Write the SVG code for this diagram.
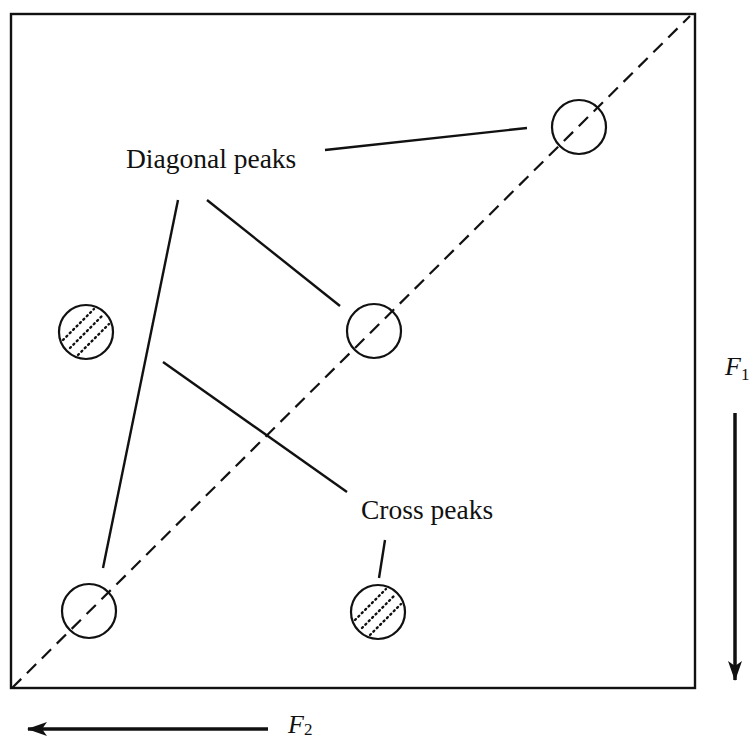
<svg xmlns="http://www.w3.org/2000/svg" width="753" height="740" viewBox="0 0 753 740">
<style>
.pk{fill:none;stroke:#111;stroke-width:2.2}
.ln{stroke:#111;stroke-width:2.4;fill:none}
.dash{stroke:#111;stroke-width:2.2;stroke-dasharray:13 8;fill:none}
.hat{stroke:#111;stroke-width:2.4;stroke-dasharray:1.2 3.6;stroke-linecap:round;fill:none}
.lbl{font-family:"Liberation Serif","Times New Roman",serif;font-size:27.5px;fill:#111}
.ax{font-family:"Liberation Serif","Times New Roman",serif;font-size:26px;font-style:italic;fill:#111}
.sub{font-family:"Liberation Serif","Times New Roman",serif;font-size:17px;fill:#111}
</style>
<defs>
<marker id="ah2" viewBox="0 0 20 14" refX="19" refY="7" markerWidth="20" markerHeight="14" orient="auto" markerUnits="userSpaceOnUse">
<path d="M0,0 L20,7 L0,14 L5,7 Z" fill="#111"/>
</marker>
<g id="hatch">
<line class="hat" x1="-23" y1="8" x2="8" y2="-23"/>
<line class="hat" x1="-16" y1="16" x2="16" y2="-16"/>
<line class="hat" x1="-8" y1="23" x2="23" y2="-8"/>
</g>
</defs>
<rect width="753" height="740" fill="#fff"/>
<rect x="11" y="14" width="684" height="674" fill="none" stroke="#111" stroke-width="2.4"/>
<g id="connectors">
<line class="dash" x1="12" y1="688" x2="690" y2="16"/>
<line class="ln" x1="325" y1="150" x2="527" y2="128"/>
<line class="ln" x1="207" y1="200" x2="340" y2="306"/>
<line class="ln" x1="178" y1="200" x2="103" y2="568"/>
<line class="ln" x1="163" y1="362" x2="347" y2="492"/>
<line class="ln" x1="385" y1="540" x2="379" y2="578"/>
<line x1="735" y1="413" x2="735" y2="680" stroke="#111" stroke-width="3.5" marker-end="url(#ah2)"/>
<line x1="268" y1="729" x2="28" y2="729" stroke="#111" stroke-width="3.5" marker-end="url(#ah2)"/>
</g>
<g id="peak-top-right"><circle class="pk" cx="579" cy="127" r="27"/></g>
<g id="peak-middle"><circle class="pk" cx="374" cy="331" r="27"/></g>
<g id="peak-bottom-left"><circle class="pk" cx="89" cy="611" r="27"/></g>
<g id="cross-left"><circle class="pk" cx="86" cy="332" r="27"/><use href="#hatch" x="86" y="332"/></g>
<g id="cross-bottom"><circle class="pk" cx="378" cy="612" r="27"/><use href="#hatch" x="378" y="612"/></g>
<g id="label-diagonal"><text class="lbl" x="126" y="168">Diagonal peaks</text></g>
<g id="label-cross"><text class="lbl" x="361" y="519">Cross peaks</text></g>
<g id="label-f1"><text class="ax" x="725" y="375">F</text><text class="sub" x="741" y="380">1</text></g>
<g id="label-f2"><text class="ax" x="288" y="733">F</text><text class="sub" x="304" y="735">2</text></g>
</svg>
